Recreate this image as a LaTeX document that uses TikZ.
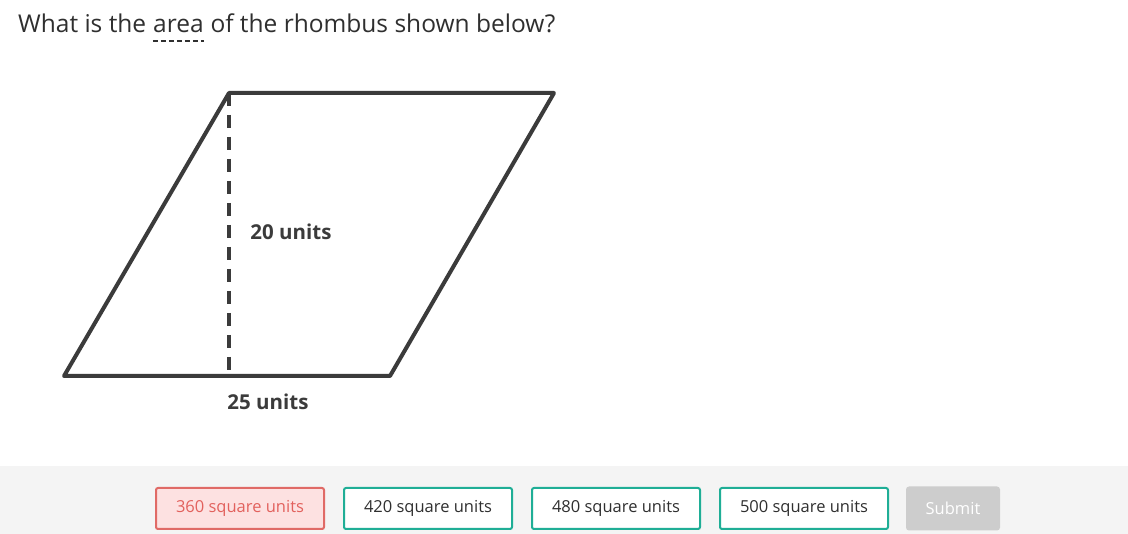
\documentclass[tikz,border=0pt]{standalone}
\usepackage{fontspec}
\setmainfont{Open Sans}
\usetikzlibrary{positioning}
\definecolor{ink}{HTML}{3B3B3B}
\definecolor{txt}{HTML}{2F2F2F}
\definecolor{footer}{HTML}{F4F4F4}
\definecolor{teal}{HTML}{1FAE96}
\definecolor{wrongfill}{HTML}{FDE1E1}
\definecolor{wrongline}{HTML}{E06A66}
\definecolor{wrongtxt}{HTML}{E2615D}
\definecolor{submitfill}{HTML}{CDCDCD}

\begin{document}
\begin{tikzpicture}[x=1pt,y=-1pt,
    words/.style={inner sep=0pt,text=txt,font=\fontsize{24.5}{24.5}\selectfont},
    choice/.style={draw=teal,line width=2pt,fill=white,rounded corners=2pt,
      minimum width=168pt,minimum height=41pt,inner sep=0pt,
      text=txt,font=\fontsize{16.5}{16.5}\selectfont},
    wrong/.style={choice,draw=wrongline,fill=wrongfill,text=wrongtxt},
    measure/.style={text=ink,font=\bfseries\fontsize{20.5}{20.5}\selectfont}]
  \useasboundingbox (0,0) rectangle (1128,534);
  \fill[white] (0,0) rectangle (1128,534);
  \fill[footer] (0,466) rectangle (1128,534);

  % question
  \node[words,anchor=base west] (q1) at (18,33) {What is the};
  \node[words,anchor=base west,xshift=6.5pt] (area) at (q1.base east) {area};
  \node[words,anchor=base west,xshift=6.5pt] (q2) at (area.base east) {of the rhombus shown below?};
  \draw[txt,line width=1.3pt,dash pattern=on 5pt off 3pt]
    ([yshift=-8pt]area.base west) -- ([yshift=-8pt]area.base east);

  % rhombus
  \coordinate (tl) at (229,93); \coordinate (tr) at (554,93);
  \coordinate (br) at (390,376); \coordinate (bl) at (64,376);
  \coordinate (foot) at (229,376);
  \draw[ink,line width=4pt,line join=round,line cap=round]
    (tl) -- (tr) -- (br) -- (bl) -- cycle;
  \draw[ink,line width=4pt,dash pattern=on 13pt off 9pt] (tl) -- (foot);
  \node[measure] (height) at (291,232) {20 units};
  \node[measure] (base) at (268,402) {25 units};

  % answers
  \node[wrong] (a1) at (240,508.5) {360 square units};
  \node[choice,right=18pt of a1] (a2) {420 square units};
  \node[choice,right=18pt of a2] (a3) {480 square units};
  \node[choice,right=18pt of a3] (a4) {500 square units};
  \node[choice,draw=none,fill=submitfill,text=white,minimum width=94pt,
    minimum height=44pt,rounded corners=3pt,font=\fontsize{16.5}{16.5}\selectfont,
    right=16pt of a4] (submit) {Submit};
\end{tikzpicture}
\end{document}
